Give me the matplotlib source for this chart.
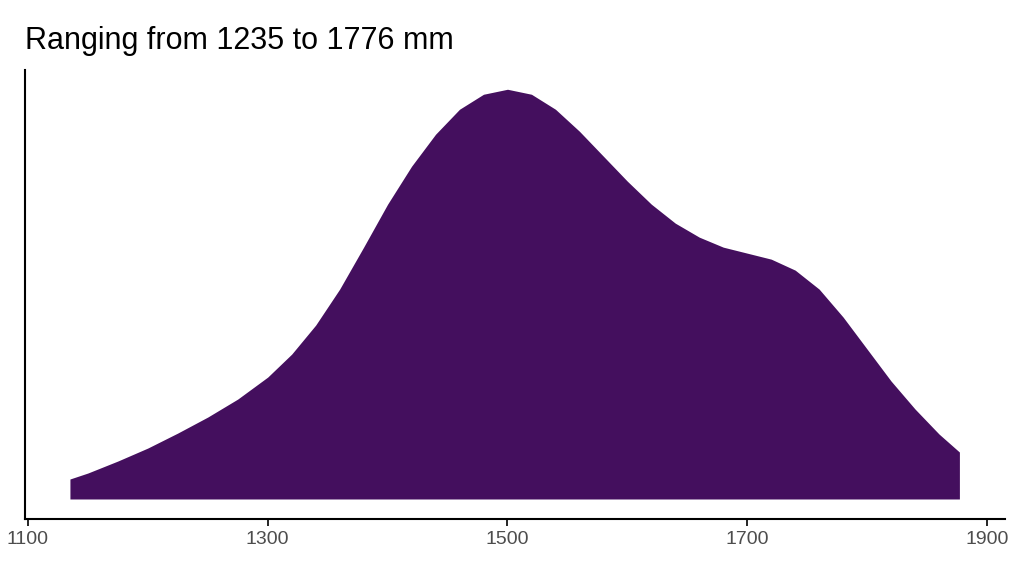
import matplotlib.pyplot as plt

# density estimate (arbitrary height units)
length_mm = [1135, 1150, 1175, 1200, 1225, 1250, 1275, 1300, 1320, 1340, 1360, 1380, 1400,
             1420, 1440, 1460, 1480, 1500, 1520, 1540, 1560, 1580, 1600, 1620, 1640,
             1660, 1680, 1700, 1720, 1740, 1760, 1780, 1800, 1820, 1840, 1860, 1877]
density = [20, 26, 38, 51, 66, 82, 100, 122, 145, 174, 210, 252, 295,
           333, 365, 390, 405, 410, 405, 390, 368, 343, 318, 295, 276,
           262, 252, 246, 240, 229, 210, 182, 150, 118, 90, 65, 47]
x_ticks = [1100, 1300, 1500, 1700, 1900]

plt.rcParams["font.family"] = ["Liberation Sans", "DejaVu Sans"]
fig = plt.figure(figsize=(10.24, 5.76), dpi=100)
ax = fig.add_axes([0.0244, 0.099, 0.957, 0.779])
ax.fill_between(length_mm, 0, density, color="#440f5e", lw=0)
ax.set_xlim(1097.5, 1915)
ax.set_ylim(-20, 429)
ax.set_xticks(x_ticks)
ax.tick_params(axis="x", labelsize=14, labelcolor="#4d4d4d", length=5, width=1.2)
ax.set_yticks([])
for s in ["top", "right"]:
    ax.spines[s].set_visible(False)
ax.spines["left"].set_linewidth(1.5)
ax.spines["bottom"].set_linewidth(1.5)
fig.text(0.0244, 0.915, "Ranging from 1235 to 1776 mm", fontsize=22, ha="left")
fig.savefig("out.png", dpi=100)
